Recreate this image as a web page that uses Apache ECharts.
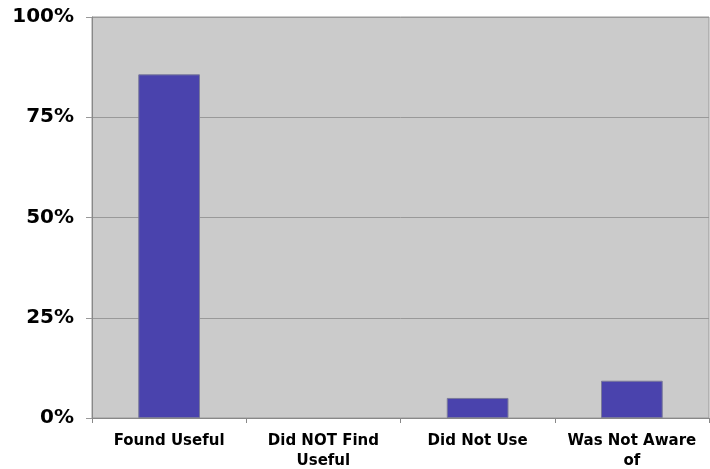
<!DOCTYPE html>
<html><head><meta charset="utf-8">
<script src="https://cdn.jsdelivr.net/npm/echarts@6/dist/echarts.min.js"></script>
<style>html,body{margin:0;padding:0;background:#fff}#c{width:710px;height:469px}</style>
</head><body><div id="c"></div>
<script>
const categories = ["Found Useful", "Did NOT Find\nUseful", "Did Not Use", "Was Not Aware\nof"];
const values = [85.7, 0, 5.0, 9.3];
const yTicks = [0, 25, 50, 75, 100];

const chart = echarts.init(document.getElementById('c'));
chart.setOption({
  animation: false,
  grid: {left: 92, right: 1, top: 17, bottom: 51, outerBoundsMode: 'none', containLabel: false,
    show: true, backgroundColor: '#cbcbcb', borderColor: '#999', borderWidth: 1},
  xAxis: {
    type: 'category', data: categories,
    axisLine: {lineStyle: {color: '#888', width: 1}},
    axisTick: {show: true, length: 5, lineStyle: {color: '#888'}},
    axisLabel: {color: '#000', fontFamily: 'DejaVu Sans', fontWeight: 'bold', fontSize: 15, lineHeight: 20, margin: 13, interval: 0}
  },
  yAxis: {
    type: 'value', min: 0, max: 100, interval: 25,
    axisLine: {show: true, lineStyle: {color: '#888'}},
    axisTick: {show: true, length: 6, lineStyle: {color: '#999'}},
    splitLine: {show: true, lineStyle: {color: '#999', width: 1}},
    axisLabel: {color: '#000', fontFamily: 'DejaVu Sans', fontWeight: 'bold', fontSize: 20, margin: 18,
      formatter: v => yTicks.includes(v) ? v + '%' : ''}
  },
  series: [{
    type: 'bar', barWidth: '40%',
    data: values.map(v => v > 0 ? v : {value: v, itemStyle: {borderWidth: 0, opacity: 0}}),
    itemStyle: {color: '#4a43ad', borderColor: '#7a7a9a', borderWidth: 1}
  }]
});
</script></body></html>
